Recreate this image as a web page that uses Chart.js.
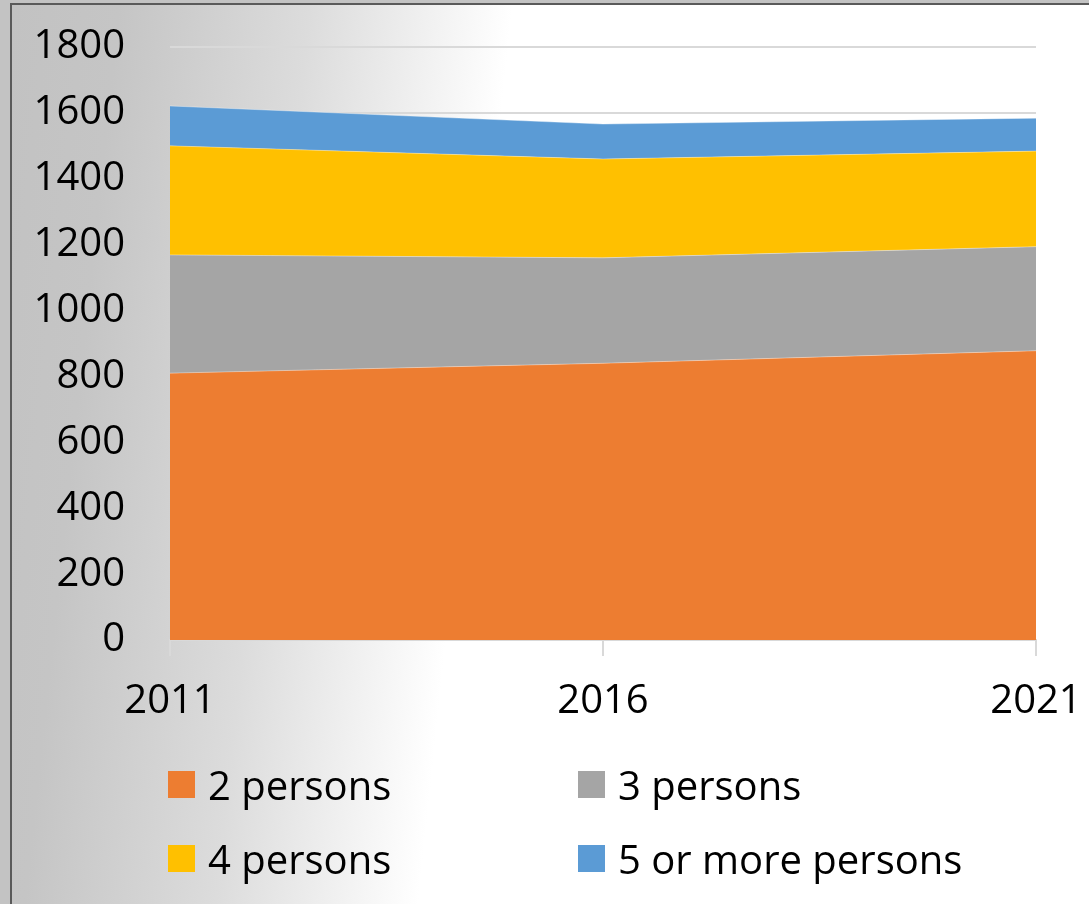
<!DOCTYPE html>
<html>
<head>
<meta charset="utf-8">
<script src="https://cdn.jsdelivr.net/npm/chart.js@4.4.1/dist/chart.umd.min.js"></script>
<style>
  html, body { margin: 0; padding: 0; background: #c3c3c3; width: 1089px; height: 904px; overflow: hidden; }
  #frame { position: absolute; left: 10px; top: 3px; width: 1100px; height: 920px; box-sizing: border-box;
           border: 2px solid #5a5a5a;
           background: linear-gradient(96deg, #c2c2c2 0%, #c5c5c5 9%, #dcdcdc 25%, #ffffff 42%, #ffffff 100%); }
  #wrap { position: absolute; left: 0; top: 0; width: 1089px; height: 904px; }
  #legend { position: absolute; left: 0; top: 0; width: 1089px; height: 904px; pointer-events: none;
            font-family: "Open Sans", sans-serif; font-size: 40px; color: #000; }
  .item { position: absolute; display: flex; align-items: center; height: 27px; white-space: nowrap; }
  .box { width: 27px; height: 27px; margin-right: 13px; flex: none; }
</style>
</head>
<body>
<div id="frame"></div>
<div id="wrap"><canvas id="c" width="1089" height="904"></canvas></div>
<div id="legend"></div>
<script>
const categories = ["2011", "2016", "2021"];
const seriesNames = ["2 persons", "3 persons", "4 persons", "5 or more persons"];
const persons2 = [810, 840, 878];
const persons3 = [359, 320, 316];
const persons4 = [331, 300, 290];
const persons5plus = [121, 106, 100];
const yTicks = [0, 200, 400, 600, 800, 1000, 1200, 1400, 1600, 1800];

const colors = ["#ED7D31", "#A5A5A5", "#FFC000", "#5B9BD5"];
const values = [persons2, persons3, persons4, persons5plus];

const datasets = values.map((v, i) => ({
  label: seriesNames[i],
  data: v,
  backgroundColor: colors[i],
  borderColor: "rgba(255,255,255,0.35)",
  borderWidth: 1,
  pointRadius: 0,
  tension: 0,
  fill: i === 0 ? "origin" : "-1"
}));

const font = { family: "Open Sans", size: 40 };

new Chart(document.getElementById("c"), {
  type: "line",
  data: { labels: categories, datasets },
  options: {
    responsive: false,
    animation: false,
    layout: { padding: { top: 47, right: 53, bottom: 0, left: 0 } },
    plugins: { legend: { display: false }, tooltip: { enabled: false } },
    scales: {
      x: {
        offset: false,
        grid: { drawOnChartArea: false, drawTicks: true, tickLength: 16, color: "#d9d9d9", lineWidth: 2 },
        border: { display: true, color: "#d9d9d9", width: 2 },
        ticks: { font, color: "#000", padding: 22, maxRotation: 0, autoSkip: false },
        afterFit: (s) => { s.height = 264; s.paddingLeft = 0; s.paddingRight = 0; }
      },
      y: {
        stacked: true,
        min: 0, max: 1800,
        afterBuildTicks: (s) => { s.ticks = yTicks.map(v => ({ value: v })); },
        grid: { drawTicks: false, color: "#d9d9d9", lineWidth: 2 },
        border: { display: false },
        ticks: { font, color: "#000", padding: 45, callback: (v) => String(v) },
        afterFit: (s) => { s.width = 170; s.paddingTop = 0; s.paddingBottom = 0; }
      }
    }
  }
});

const legendPos = [[168, 771], [578, 771], [168, 845], [578, 845]];
const lg = document.getElementById("legend");
seriesNames.forEach((name, i) => {
  const d = document.createElement("div");
  d.className = "item";
  d.style.left = legendPos[i][0] + "px";
  d.style.top = legendPos[i][1] + "px";
  const b = document.createElement("span");
  b.className = "box";
  b.style.background = colors[i];
  const t = document.createElement("span");
  t.textContent = name;
  d.appendChild(b); d.appendChild(t);
  lg.appendChild(d);
});
</script>
</body>
</html>
